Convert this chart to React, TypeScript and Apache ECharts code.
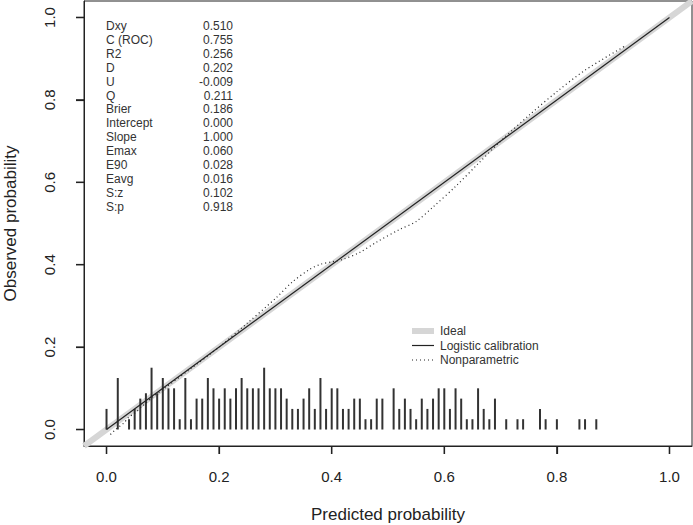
import React, { useEffect, useRef } from "react";
import * as echarts from "echarts";

const tickValues = [0, 0.2, 0.4, 0.6, 0.8, 1.0];

const statNames = ["Dxy", "C (ROC)", "R2", "D", "U", "Q", "Brier", "Intercept", "Slope", "Emax", "E90", "Eavg", "S:z", "S:p"];
const statValues = ["0.510", "0.755", "0.256", "0.202", "-0.009", "0.211", "0.186", "0.000", "1.000", "0.060", "0.028", "0.016", "0.102", "0.918"];

const legendNames = ["Ideal", "Logistic calibration", "Nonparametric"];

const idealLine = [[-0.04, -0.04], [1.04, 1.04]];
const logisticLine = [[0, 0], [1, 1]];

const nonparametric = [
  [0.007, -0.012], [0.016, 0.0], [0.031, 0.016], [0.039, 0.029], [0.054, 0.044], [0.063, 0.056],
  [0.083, 0.08], [0.1, 0.097], [0.15, 0.148], [0.2, 0.2], [0.25, 0.258], [0.3, 0.318], [0.33, 0.358],
  [0.36, 0.388], [0.38, 0.401], [0.4, 0.407], [0.42, 0.413], [0.45, 0.43], [0.48, 0.455], [0.52, 0.485],
  [0.55, 0.505], [0.58, 0.54], [0.62, 0.59], [0.66, 0.645], [0.7, 0.7], [0.75, 0.762], [0.8, 0.82],
  [0.85, 0.872], [0.92, 0.93],
];

const spikeX = [
  0.0, 0.02, 0.04, 0.05, 0.06, 0.07, 0.08, 0.09, 0.1, 0.11, 0.12, 0.13, 0.14, 0.15, 0.16, 0.17, 0.18, 0.19,
  0.2, 0.21, 0.22, 0.23, 0.24, 0.25, 0.26, 0.27, 0.28, 0.29, 0.3, 0.31, 0.32, 0.33, 0.34, 0.35, 0.36, 0.37,
  0.38, 0.39, 0.4, 0.41, 0.42, 0.43, 0.44, 0.45, 0.46, 0.47, 0.48, 0.49, 0.51, 0.52, 0.53, 0.54, 0.55, 0.56,
  0.57, 0.58, 0.59, 0.6, 0.61, 0.62, 0.63, 0.64, 0.65, 0.66, 0.67, 0.68, 0.69, 0.71, 0.73, 0.74, 0.77, 0.78,
  0.8, 0.84, 0.85, 0.87,
];
const spikeH = [
  0.05, 0.125, 0.025, 0.05, 0.075, 0.088, 0.15, 0.088, 0.125, 0.1, 0.1, 0.025, 0.125, 0.025, 0.075, 0.075, 0.125, 0.1,
  0.075, 0.1, 0.075, 0.1, 0.125, 0.1, 0.1, 0.1, 0.15, 0.1, 0.1, 0.1, 0.075, 0.05, 0.05, 0.075, 0.1, 0.05,
  0.125, 0.05, 0.1, 0.1, 0.05, 0.05, 0.075, 0.075, 0.025, 0.025, 0.075, 0.075, 0.1, 0.05, 0.075, 0.05, 0.025, 0.075,
  0.05, 0.075, 0.1, 0.1, 0.05, 0.1, 0.075, 0.025, 0.025, 0.1, 0.05, 0.025, 0.075, 0.025, 0.025, 0.025, 0.05, 0.025,
  0.025, 0.025, 0.025, 0.025,
];

const FONT = "'Liberation Sans', Arial, Helvetica, sans-serif";
const INK = "#222";
const AXIS_MIN = -0.04;
const AXIS_MAX = 1.04;

export default function App() {
  const ref = useRef<HTMLDivElement>(null);

  useEffect(() => {
    if (!ref.current) return;
    const chart = echarts.init(ref.current, null, { renderer: "svg" });

    const spikes = spikeX.map((x, i) => [x, spikeH[i]]);

    const statGraphics: any[] = [];
    statNames.forEach((n, i) => {
      const y = 26 + i * 13.9;
      statGraphics.push({
        type: "text", x: 106, y,
        style: { text: n, font: `12px ${FONT}`, fill: "#333", textAlign: "left", textVerticalAlign: "middle" },
      });
      statGraphics.push({
        type: "text", x: 233, y,
        style: { text: statValues[i], font: `12px ${FONT}`, fill: "#333", textAlign: "right", textVerticalAlign: "middle" },
      });
    });

    const legendStyles = [
      { stroke: "#d6d6d6", lineWidth: 6 },
      { stroke: INK, lineWidth: 1.2 },
      { stroke: INK, lineWidth: 1.2, lineDash: [1, 3] },
    ];
    const legendGraphics: any[] = [];
    legendNames.forEach((n, i) => {
      const y = 331 + i * 14.5;
      legendGraphics.push({
        type: "line",
        shape: { x1: 412, y1: y, x2: 434, y2: y },
        style: legendStyles[i],
      });
      legendGraphics.push({
        type: "text", x: 440, y,
        style: { text: n, font: `12px ${FONT}`, fill: "#333", textAlign: "left", textVerticalAlign: "middle" },
      });
    });

    const axisCommon = {
      type: "value" as const,
      min: AXIS_MIN,
      max: AXIS_MAX,
      splitLine: { show: false },
      axisLine: { show: true, onZero: false, lineStyle: { color: INK, width: 1 } },
      axisTick: {
        show: true, inside: false, length: 8, customValues: tickValues,
        lineStyle: { color: INK, width: 1.2 },
      },
      nameLocation: "middle" as const,
      nameTextStyle: { fontFamily: FONT, fontSize: 17, color: INK },
    };

    chart.setOption({
      animation: false,
      backgroundColor: "#fff",
      grid: {
        left: 84, right: 1, top: 1, bottom: 79, show: true, borderColor: INK, borderWidth: 1,
        backgroundColor: "transparent", containLabel: false, outerBoundsMode: "none",
      },
      xAxis: {
        ...axisCommon,
        name: "Predicted probability",
        nameGap: 60,
        axisLabel: {
          customValues: tickValues,
          formatter: (v: number) => v.toFixed(1),
          fontFamily: FONT, fontSize: 15, color: INK, margin: 23,
        },
      },
      yAxis: {
        ...axisCommon,
        name: "Observed probability",
        nameGap: 65,
        axisLabel: {
          customValues: tickValues,
          formatter: (v: number) => v.toFixed(1),
          fontFamily: FONT, fontSize: 15, color: INK, margin: 27, rotate: 90,
        },
      },
      series: [
        {
          type: "line", data: idealLine, showSymbol: false, silent: true, z: 1,
          lineStyle: { color: "#d6d6d6", width: 6 },
        },
        {
          type: "custom", data: spikes, z: 2, silent: true,
          encode: { x: 0, y: 1 },
          renderItem: (params: any, api: any) => {
            const x = api.value(0);
            const h = api.value(1);
            const p0 = api.coord([x, 0]);
            const p1 = api.coord([x, h]);
            return {
              type: "line",
              shape: { x1: p0[0], y1: p0[1], x2: p1[0], y2: p1[1] },
              style: { stroke: "#333", lineWidth: 2 },
            };
          },
        },
        {
          type: "line", data: logisticLine, showSymbol: false, silent: true, z: 3,
          lineStyle: { color: INK, width: 1.2 },
        },
        {
          type: "line", data: nonparametric, showSymbol: false, silent: true, z: 4, smooth: 0.3,
          lineStyle: { color: INK, width: 1.2, type: [1, 3] },
        },
      ],
      graphic: [...statGraphics, ...legendGraphics],
    });

    // Outward ticks, placed through the grid's scales once the chart has been laid out
    let ticksAdded = false;
    const addTicks = () => {
      if (ticksAdded) return;
      const tickGraphics: any[] = [];
      tickValues.forEach((v) => {
        const pb = chart.convertToPixel({ gridIndex: 0 }, [v, AXIS_MIN]) as any;
        const pl = chart.convertToPixel({ gridIndex: 0 }, [AXIS_MIN, v]) as any;
        if (pb && isFinite(pb[0]) && isFinite(pb[1])) {
          tickGraphics.push({
            type: "rect", z: 100,
            shape: { x: pb[0] - 0.7, y: pb[1], width: 1.4, height: 8 },
            style: { fill: INK },
          });
        }
        if (pl && isFinite(pl[0]) && isFinite(pl[1])) {
          tickGraphics.push({
            type: "rect", z: 100,
            shape: { x: pl[0] - 8, y: pl[1] - 0.7, width: 8, height: 1.4 },
            style: { fill: INK },
          });
        }
      });
      if (tickGraphics.length) {
        ticksAdded = true;
        chart.setOption({ graphic: [...statGraphics, ...legendGraphics, ...tickGraphics] });
      }
    };
    addTicks();
    chart.on("finished", addTicks);

    return () => chart.dispose();
  }, []);

  return (
    <div
      ref={ref}
      style={{ position: "absolute", left: 0, top: 0, width: 693, height: 525, background: "#fff" }}
    />
  );
}
